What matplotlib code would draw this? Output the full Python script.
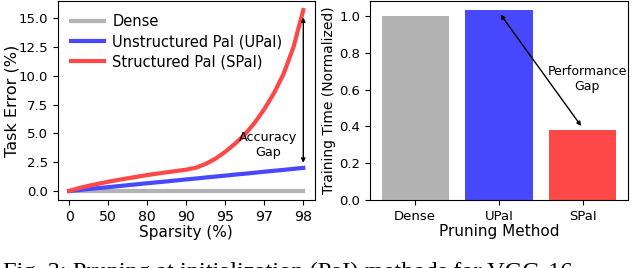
import matplotlib
matplotlib.use("Agg")
import matplotlib.pyplot as plt

# left panel: task error vs sparsity (categorical x positions)
sparsity_labels = ["0", "50", "80", "90", "95", "97", "98"]
pos_fine = [0, 0.25, 0.5, 0.75, 1, 1.5, 2, 2.5, 3, 3.25, 3.5, 3.75,
            4, 4.25, 4.5, 4.75, 5, 5.25, 5.5, 5.75, 6]
dense_err = [0] * 21
upai_err = [0, 0.08, 0.17, 0.25, 0.33, 0.5, 0.67, 0.83, 1.0, 1.08, 1.17, 1.25,
            1.33, 1.42, 1.5, 1.58, 1.67, 1.75, 1.83, 1.92, 2.0]
spai_err = [0, 0.25, 0.45, 0.63, 0.8, 1.1, 1.38, 1.62, 1.85, 2.02, 2.35, 2.8,
            3.4, 4.1, 4.9, 5.9, 7.1, 8.5, 10.2, 12.5, 15.7]

# right panel: normalized training time
methods = ["Dense", "UPaI", "SPaI"]
train_time = [1.0, 1.03, 0.38]

GRAY = "#b3b3b3"
BLUE = "#4848ff"
RED = "#ff4848"

fig = plt.figure(figsize=(6.4, 2.68), dpi=100)
ax1 = fig.add_axes([57.5/640, 68/268, 257.5/640, 199/268])
ax2 = fig.add_axes([370/640, 68/268, 258/640, 199/268])

ax1.plot(pos_fine, dense_err, color=GRAY, lw=3, label="Dense")
ax1.plot(pos_fine, upai_err, color=BLUE, lw=3, label="Unstructured PaI (UPaI)")
ax1.plot(pos_fine, spai_err, color=RED, lw=3, label="Structured PaI (SPaI)")
ax1.set_xticks(range(len(sparsity_labels)))
ax1.set_xticklabels(sparsity_labels)
ax1.set_yticks([0, 2.5, 5, 7.5, 10, 12.5, 15])
ax1.tick_params(axis="y", labelsize=9.5)
ax1.tick_params(axis="x", labelsize=10.2)
ax1.set_xlabel("Sparsity (%)", fontsize=11, labelpad=1)
ax1.set_ylabel("Task Error (%)", fontsize=11.5)
ax1.yaxis.set_label_coords(-0.148, 0.5)
ax1.legend(loc="upper left", frameon=False, fontsize=10.5, labelspacing=0.35,
           handlelength=2.3, handletextpad=0.55)
ax1.annotate("", xy=(6, 15.3), xytext=(6, 2.2),
             arrowprops=dict(arrowstyle="<|-|>", color="black", lw=1,
                             mutation_scale=6))
ax1.text(5.1, 4.0, "Accuracy\nGap", ha="center", va="center", fontsize=9.2)

ax2.bar(range(len(methods)), train_time, color=[GRAY, BLUE, RED], width=0.8)
ax2.set_xticks(range(len(methods)))
ax2.set_xticklabels(methods)
ax2.tick_params(labelsize=9.5)
ax2.set_xlabel("Pruning Method", fontsize=11, labelpad=1)
ax2.set_ylabel("Training Time (Normalized)", fontsize=10, labelpad=2)
ax2.annotate("", xy=(1.0, 1.02), xytext=(2.0, 0.39),
             arrowprops=dict(arrowstyle="<|-|>", color="black", lw=1,
                             mutation_scale=6))
ax2.text(2.05, 0.66, "Performance\nGap", ha="center", va="center", fontsize=9)

fig.text(0.005, -0.039, "Fig. 3: Pruning at initialization (PaI) methods for VGG-16",
         fontsize=17.6, family="Liberation Serif", va="baseline", ha="left")

fig.savefig("out.png", dpi=100)
